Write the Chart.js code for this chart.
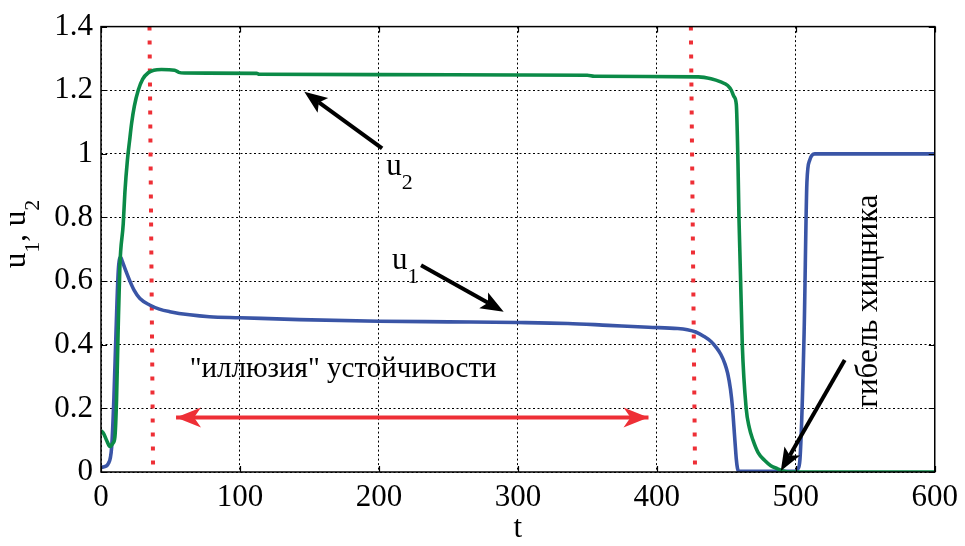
<!DOCTYPE html>
<html><head><meta charset="utf-8">
<script src="https://cdn.jsdelivr.net/npm/chart.js@4"></script>
<style>html,body{margin:0;padding:0;background:#fff;}canvas{display:block;}</style>
</head><body>
<canvas id="c" width="965" height="546"></canvas>
<script>
// ---- data ----
const xTicks = [0, 100, 200, 300, 400, 500, 600];
const yTicks = [0, 0.2, 0.4, 0.6, 0.8, 1, 1.2, 1.4];

const u2T = [0,2,4,6.5,8.5,10,11.2,12.3,13.6,16,17.2,19,20.8,22,24,26.8,30,34,38,43.5,53,56,60,112,114,200,300,350,355,430,439,446,451,453.6,455.5,457.2,458.4,459.1,461.5,464.3,466.5,469.2,473,477.5,482,487,491,495,600];
const u2V = [0.13,0.12,0.1,0.08,0.09,0.11,0.23,0.44,0.65,0.78,0.88,0.98,1.05,1.095,1.15,1.2,1.235,1.255,1.263,1.265,1.263,1.256,1.254,1.253,1.25,1.249,1.248,1.247,1.244,1.242,1.236,1.226,1.215,1.2,1.18,1.155,0.97,0.8,0.4,0.2,0.14,0.1,0.06,0.037,0.02,0.01,0.003,0,0];

const u1T = [0,1.7,5.3,7.7,9.3,10.8,12.4,14.1,15.5,17.2,20.8,24,28,35,42,49.5,63.8,78,100,143,200,250,300,336,365,394,415,422,428,434,439,443,446,449,451,453,454.5,455.5,456.5,457.2,458,459,500,501.5,503,506,508,510,513.6,600];
const u1V = [0.015,0.016,0.027,0.08,0.234,0.44,0.63,0.675,0.66,0.64,0.6,0.57,0.545,0.525,0.512,0.504,0.494,0.488,0.485,0.479,0.474,0.472,0.47,0.467,0.461,0.455,0.451,0.447,0.44,0.426,0.41,0.39,0.37,0.34,0.31,0.26,0.2,0.14,0.08,0.04,0.012,0.002,0.002,0.01,0.04,0.44,0.91,0.98,1.0,1.0];

// red dotted markers (t at top, t at bottom) and their value span
const marker1T = [34.9, 37.5];
const marker2T = [424.5, 427.5];
const markerV = [1.4, 0];
// red double arrow
const spanT = [54, 394];
const spanV = 0.171;
// black arrows: [tailT, tailV, tipT, tipV]
const arrowU2 = [202.3, 1.017, 146.3, 1.195];
const arrowU1 = [230.3, 0.650, 289.8, 0.504];
const arrowDeath = [535.2, 0.352, 489.2, 0.003];
// text anchors
const labelU2 = [205.2, 0.933];
const labelU1 = [209.5, 0.638];
const labelIllusion = [63.8, 0.299];
const labelDeath = [558.8, 0.202];
const textIllusion = '"иллюзия" устойчивости';
const textDeath = 'гибель хищника';

// ---- styles ----
const BLUE = '#3a55a6';
const GREEN = '#0b8a47';
const RED = '#ee2f36';
const FAM = '"Liberation Serif", "Times New Roman", serif';
const MAINF = '31px ' + FAM;
const SUBF = '22px ' + FAM;
const NOTEF = '29px ' + FAM;

const pts = (ts, vs) => ts.map((t, i) => ({x: t, y: vs[i]}));

function arrowHead(ctx, x1, y1, x2, y2, len, half, notch, color) {
  const ang = Math.atan2(y2 - y1, x2 - x1);
  const c = Math.cos(ang), s = Math.sin(ang);
  const bx = x2 - len * c, by = y2 - len * s;
  const nx = x2 - (len - notch) * c, ny = y2 - (len - notch) * s;
  ctx.fillStyle = color;
  ctx.beginPath();
  ctx.moveTo(x2, y2);
  ctx.lineTo(bx + half * s, by - half * c);
  ctx.lineTo(nx, ny);
  ctx.lineTo(bx - half * s, by + half * c);
  ctx.closePath();
  ctx.fill();
}
function arrow(ctx, x1, y1, x2, y2, w, len, half, notch, color) {
  const ang = Math.atan2(y2 - y1, x2 - x1);
  const c = Math.cos(ang), s = Math.sin(ang);
  const ex = x2 - (len - notch) * c, ey = y2 - (len - notch) * s;
  ctx.strokeStyle = color; ctx.lineWidth = w; ctx.lineCap = 'butt';
  ctx.beginPath(); ctx.moveTo(x1, y1); ctx.lineTo(ex, ey); ctx.stroke();
  arrowHead(ctx, x1, y1, x2, y2, len, half, notch, color);
}
function subText(ctx, parts, x, y) {
  let cx = x;
  for (const [t, sub] of parts) {
    ctx.font = sub ? SUBF : MAINF;
    ctx.fillText(t, cx, sub ? y + 14 : y);
    cx += ctx.measureText(t).width;
  }
  return cx - x;
}
function partsWidth(ctx, parts) {
  let w = 0;
  for (const [t, sub] of parts) { ctx.font = sub ? SUBF : MAINF; w += ctx.measureText(t).width; }
  return w;
}

const annot = {
  id: 'annot',
  afterDatasetsDraw(chart) {
    const {ctx, scales: {x, y}} = chart;
    const X = t => x.getPixelForValue(t), Y = v => y.getPixelForValue(v);
    ctx.save();
    arrowHead(ctx, X(spanT[1]), Y(spanV), X(spanT[0]), Y(spanV), 25, 10, 7, RED);
    arrowHead(ctx, X(spanT[0]), Y(spanV), X(spanT[1]), Y(spanV), 25, 10, 7, RED);
    ctx.restore();
  },
  afterDraw(chart) {
    const {ctx, chartArea: a, scales: {x, y}} = chart;
    const X = t => x.getPixelForValue(t), Y = v => y.getPixelForValue(v);
    ctx.save();
    ctx.strokeStyle = '#000'; ctx.lineWidth = 1.5;
    ctx.strokeRect(a.left, a.top, a.right - a.left, a.bottom - a.top);
    ctx.lineWidth = 1.2;
    ctx.beginPath();
    xTicks.forEach(v => {
      const px = Math.round(X(v)) + 0.5;
      ctx.moveTo(px, a.bottom); ctx.lineTo(px, a.bottom - 6);
      ctx.moveTo(px, a.top); ctx.lineTo(px, a.top + 6);
    });
    yTicks.forEach(v => {
      const py = Math.round(Y(v)) + 0.5;
      ctx.moveTo(a.left, py); ctx.lineTo(a.left + 6, py);
      ctx.moveTo(a.right, py); ctx.lineTo(a.right - 6, py);
    });
    ctx.stroke();
    [arrowU2, arrowU1, arrowDeath].forEach(ar => {
      arrow(ctx, X(ar[0]), Y(ar[1]), X(ar[2]), Y(ar[3]), 4, 23, 9, 5, '#000');
    });
    ctx.fillStyle = '#000';
    ctx.textAlign = 'left'; ctx.textBaseline = 'alphabetic';
    subText(ctx, [['u', false], ['2', true]], X(labelU2[0]), Y(labelU2[1]));
    subText(ctx, [['u', false], ['1', true]], X(labelU1[0]), Y(labelU1[1]));
    ctx.font = NOTEF;
    ctx.fillText(textIllusion, X(labelIllusion[0]), Y(labelIllusion[1]));
    ctx.save();
    ctx.translate(X(labelDeath[0]), Y(labelDeath[1]));
    ctx.rotate(-Math.PI / 2);
    ctx.font = MAINF;
    ctx.fillText(textDeath, 0, 0);
    ctx.restore();
    const yParts = [['u', false], ['1', true], [', ', false], ['u', false], ['2', true]];
    const w = partsWidth(ctx, yParts);
    ctx.save();
    ctx.translate(25, 234 + w / 2);
    ctx.rotate(-Math.PI / 2);
    subText(ctx, yParts, 0, 0);
    ctx.restore();
    ctx.font = MAINF; ctx.textAlign = 'center';
    ctx.fillText('t', (a.left + a.right) / 2, 537);
    ctx.restore();
  }
};

const tickFont = {family: '"Liberation Serif", "Times New Roman", serif', size: 31};

new Chart(document.getElementById('c'), {
  type: 'line',
  data: {
    datasets: [
      {data: pts(u2T, u2V), borderColor: GREEN, borderWidth: 3.6, pointRadius: 0, cubicInterpolationMode: 'monotone', fill: false},
      {data: pts(u1T, u1V), borderColor: BLUE, borderWidth: 3.6, pointRadius: 0, cubicInterpolationMode: 'monotone', fill: false},
      {data: pts(marker1T, markerV), borderColor: RED, borderWidth: 4, borderDash: [4, 10], borderCapStyle: 'butt', pointRadius: 0},
      {data: pts(marker2T, markerV), borderColor: RED, borderWidth: 4, borderDash: [4, 10], borderCapStyle: 'butt', pointRadius: 0},
      {data: [{x: spanT[0], y: spanV}, {x: spanT[1], y: spanV}], borderColor: RED, borderWidth: 4, pointRadius: 0}
    ]
  },
  options: {
    responsive: false, animation: false, devicePixelRatio: 1,
    layout: {padding: {left: 0, right: 28, top: 22, bottom: 0}},
    plugins: {legend: {display: false}, tooltip: {enabled: false}},
    scales: {
      x: {
        type: 'linear', min: 0, max: 600,
        afterBuildTicks: s => { s.ticks = xTicks.map(v => ({value: v})); },
        ticks: {font: tickFont, color: '#000', padding: 7, maxRotation: 0, autoSkip: false,
                callback: v => String(v)},
        grid: {color: '#000', lineWidth: 1, drawTicks: false},
        border: {display: false, dash: [2, 2.5]},
        afterFit: s => { s.height = 74; }
      },
      y: {
        type: 'linear', min: 0, max: 1.4,
        afterBuildTicks: s => { s.ticks = yTicks.map(v => ({value: v})); },
        ticks: {font: tickFont, color: '#000', padding: 8, autoSkip: false,
                callback: v => String(Math.round(v * 10) / 10)},
        grid: {color: '#000', lineWidth: 1, drawTicks: false},
        border: {display: false, dash: [2, 2.5]},
        afterFit: s => { s.width = 101; }
      }
    }
  },
  plugins: [annot]
});
</script>
</body></html>
